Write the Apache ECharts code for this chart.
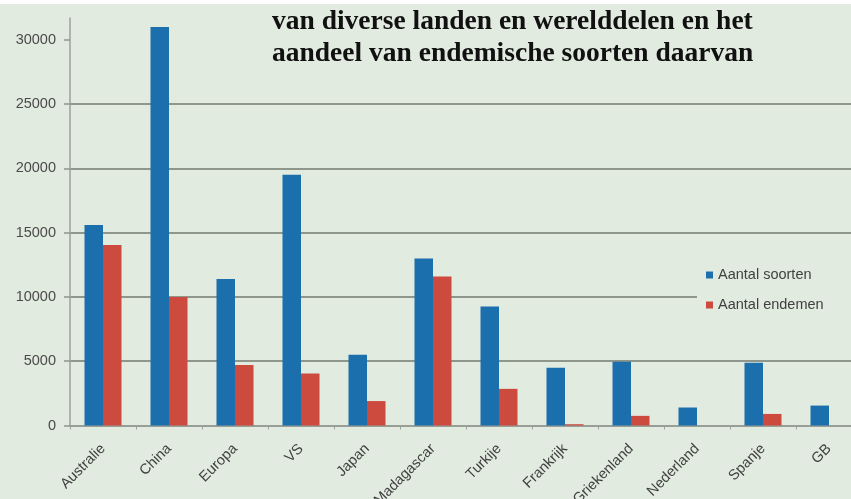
<!DOCTYPE html>
<html>
<head>
<meta charset="utf-8">
<script src="https://cdn.jsdelivr.net/npm/echarts@6/dist/echarts.min.js"></script>
<style>
html,body{margin:0;padding:0;background:#ffffff;}
#chart{width:851px;height:499px;}
</style>
</head>
<body>
<div id="chart"></div>
<script>
const categories = ['Australie','China','Europa','VS','Japan','Madagascar','Turkije','Frankrijk','Griekenland','Nederland','Spanje','GB'];
const aantalSoorten = [15600, 31000, 11400, 19500, 5500, 13000, 9250, 4500, 4950, 1400, 4880, 1550];
const aantalEndemen = [14050, 10000, 4700, 4050, 1900, 11600, 2850, 100, 750, null, 900, null];
const yTicks = [0, 5000, 10000, 15000, 20000, 25000, 30000];
const titleLines = ['van diverse landen en werelddelen en het', 'aandeel van endemische soorten daarvan'];
const seriesNames = ['Aantal soorten', 'Aantal endemen'];

const bg = '#e1ebdf';
const chart = echarts.init(document.getElementById('chart'), null, {renderer: 'canvas'});
chart.setOption({
  backgroundColor: bg,
  animation: false,
  title: {
    text: titleLines.join('\n'),
    left: 265,
    top: 4,
    padding: [2, 120, 6, 7],
    backgroundColor: bg,
    textStyle: {
      fontFamily: 'Liberation Serif',
      fontWeight: 'bold',
      fontSize: 27.5,
      lineHeight: 32,
      color: '#111111'
    }
  },
  legend: {
    orient: 'vertical',
    left: 697,
    top: 259,
    padding: [8, 40, 8, 9],
    backgroundColor: bg,
    itemWidth: 7,
    itemHeight: 7,
    itemGap: 14,
    icon: 'rect',
    textStyle: {fontFamily: 'Liberation Sans', fontSize: 14.5, lineHeight: 16, color: '#404040'},
    data: seriesNames
  },
  grid: {left: 70, right: -11, top: 18, bottom: 73.5, containLabel: false, outerBoundsMode: 'none'},
  xAxis: {
    type: 'category',
    data: categories,
    axisLine: {show: true, lineStyle: {color: '#9aa29a', width: 1.5}},
    axisTick: {show: true, length: 4, lineStyle: {color: '#9aa29a'}},
    axisLabel: {rotate: 45, margin: 21, fontFamily: 'Liberation Sans', fontSize: 14.5, color: '#404040', interval: 0}
  },
  yAxis: {
    type: 'value',
    min: 0,
    max: 31700,
    interval: 5000,
    axisLine: {show: true, lineStyle: {color: '#9aa29a', width: 1.5}},
    axisTick: {show: true, inside: false, length: 6, lineStyle: {color: '#8f978d', width: 1.5}, customValues: yTicks},
    axisLabel: {margin: 14, fontFamily: 'Liberation Sans', fontSize: 14.5, color: '#4a4a4a', customValues: yTicks,
      formatter: function (v) { return String(v); }},
    splitLine: {show: true, showMaxLine: false, lineStyle: {color: '#8f978d', width: 1.8}}
  },
  graphic: [{
    type: 'rect', left: 0, top: 0, z: 100,
    shape: {width: 851, height: 4},
    style: {fill: '#ffffff'}
  }],
  series: [
    {name: seriesNames[0], type: 'bar', data: aantalSoorten, barWidth: 18.5, barGap: '0%', itemStyle: {color: '#1b6fad'}},
    {name: seriesNames[1], type: 'bar', data: aantalEndemen, barWidth: 18.5, barGap: '0%', itemStyle: {color: '#cd4a3e'}}
  ]
});
</script>
</body>
</html>
